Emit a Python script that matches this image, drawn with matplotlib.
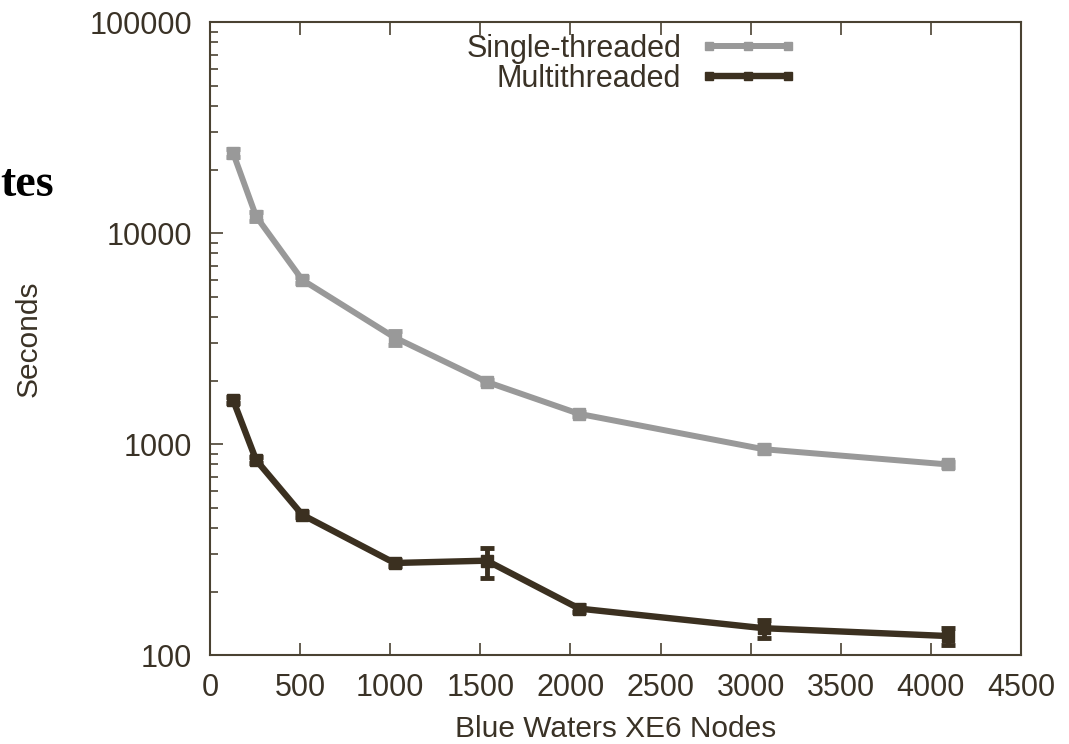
import matplotlib.pyplot as plt
from matplotlib.lines import Line2D
from matplotlib.ticker import FixedLocator, NullFormatter

# nodes on Blue Waters
nodes = [128, 256, 512, 1024, 1536, 2048, 3072, 4096]

# single-threaded run times (s) with min / max
single = [24000, 12000, 6000, 3200, 1970, 1390, 945, 800]
single_lo = [23000, 11400, 5800, 2950, 1920, 1360, 910, 780]
single_hi = [25000, 12600, 6200, 3450, 2020, 1420, 985, 825]

# multithreaded run times (s) with min / max
multi = [1620, 840, 462, 273, 280, 166, 134, 123]
multi_lo = [1570, 810, 450, 265, 232, 160, 121, 112]
multi_hi = [1670, 870, 475, 282, 321, 172, 147, 134]

xticks = [0, 500, 1000, 1500, 2000, 2500, 3000, 3500, 4000, 4500]
yticks = [100, 1000, 10000, 100000]

grey = '#999999'
dark = '#3b3020'
axcol = '#4a4232'
txtcol = '#3a3226'

plt.rcParams['font.family'] = ['Liberation Sans', 'DejaVu Sans']

fig = plt.figure(figsize=(10.69, 7.44), dpi=100)
ax = fig.add_axes([0.1964, 0.1196, 0.7587, 0.8508])

def err(v, lo, hi):
    return [[a - b for a, b in zip(v, lo)], [b - a for a, b in zip(v, hi)]]

ax.errorbar(nodes, single, yerr=err(single, single_lo, single_hi), color=grey,
            lw=4.3, marker='s', ms=8, capsize=5, capthick=3.5, elinewidth=3.5)
ax.errorbar(nodes, multi, yerr=err(multi, multi_lo, multi_hi), color=dark,
            lw=4.6, marker='s', ms=8, capsize=5, capthick=3.5, elinewidth=3.5)

ax.set_yscale('log')
ax.set_xlim(0, 4500)
ax.set_ylim(100, 100000)
ax.set_xticks(xticks)
ax.set_xticklabels([str(t) for t in xticks])
ax.set_yticks(yticks)
ax.set_yticklabels([str(t) for t in yticks])
minors = [m * 10 ** e for e in range(2, 5) for m in range(2, 10)]
ax.yaxis.set_minor_locator(FixedLocator(minors))
ax.yaxis.set_minor_formatter(NullFormatter())

ax.tick_params(which='both', direction='in', top=True, right=False,
               color=axcol, labelcolor=txtcol, labelsize=22, width=1.2)
ax.tick_params(axis='x', which='major', length=9, pad=13)
ax.tick_params(axis='y', which='major', length=9, pad=13)
ax.tick_params(which='minor', length=6)
for s in ax.spines.values():
    s.set_color(axcol)
    s.set_linewidth(1.5)

ax.set_xlabel('Blue Waters XE6 Nodes', fontsize=21.5, color=txtcol)
ax.xaxis.set_label_coords(0.5, -0.095)
ax.set_ylabel('Seconds', fontsize=21.5, color=txtcol)
ax.yaxis.set_label_coords(-0.206, 0.5)

handles = [Line2D([], [], color=grey, lw=4.3, marker='s', ms=6),
           Line2D([], [], color=dark, lw=4.6, marker='s', ms=6)]
leg = ax.legend(handles, ['Single-threaded', 'Multithreaded'], loc='upper right',
                bbox_to_anchor=(0.758, 1.025), frameon=False, markerfirst=False,
                numpoints=3, fontsize=22, handlelength=3.2, handletextpad=0.6,
                labelspacing=0.0)
for t in leg.get_texts():
    t.set_color(txtcol)

fig.text(0.0, 1 - 185 / 744, 'tes', ha='left', va='center',
         fontsize=33, fontweight='bold', family='Liberation Serif', color='black')

fig.savefig('out.png', dpi=100)
